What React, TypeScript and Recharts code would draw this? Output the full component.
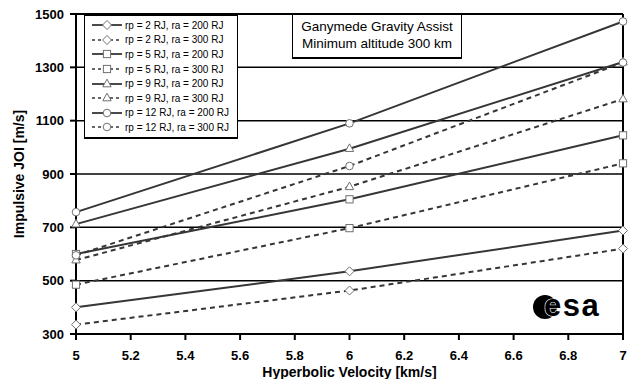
import React from 'react';
import { LineChart, Line, XAxis, YAxis, CartesianGrid, Legend, ReferenceLine } from 'recharts';

// Hyperbolic approach velocity (km/s)
const velocities = [5, 6, 7];

// Impulsive Jupiter orbit insertion cost (m/s) per orbit case
const rp2ra200 = [400, 535, 688];
const rp2ra300 = [335, 463, 620];
const rp5ra200 = [600, 805, 1045];
const rp5ra300 = [485, 697, 940];
const rp9ra200 = [712, 995, 1320];
const rp9ra300 = [577, 852, 1181];
const rp12ra200 = [757, 1090, 1472];
const rp12ra300 = [595, 930, 1318];

const xTicks = [5, 5.2, 5.4, 5.6, 5.8, 6, 6.2, 6.4, 6.6, 6.8, 7];
const yTicks = [300, 500, 700, 900, 1100, 1300, 1500];

const titleLines = ['Ganymede Gravity Assist', 'Minimum altitude 300 km'];

type Shape = 'diamond' | 'square' | 'triangle' | 'circle';

const series: { key: string; name: string; values: number[]; shape: Shape; dashed: boolean }[] = [
  { key: 'rp2ra200', name: 'rp = 2 RJ, ra = 200 RJ', values: rp2ra200, shape: 'diamond', dashed: false },
  { key: 'rp2ra300', name: 'rp = 2 RJ, ra = 300 RJ', values: rp2ra300, shape: 'diamond', dashed: true },
  { key: 'rp5ra200', name: 'rp = 5 RJ, ra = 200 RJ', values: rp5ra200, shape: 'square', dashed: false },
  { key: 'rp5ra300', name: 'rp = 5 RJ, ra = 300 RJ', values: rp5ra300, shape: 'square', dashed: true },
  { key: 'rp9ra200', name: 'rp = 9 RJ, ra = 200 RJ', values: rp9ra200, shape: 'triangle', dashed: false },
  { key: 'rp9ra300', name: 'rp = 9 RJ, ra = 300 RJ', values: rp9ra300, shape: 'triangle', dashed: true },
  { key: 'rp12ra200', name: 'rp = 12 RJ, ra = 200 RJ', values: rp12ra200, shape: 'circle', dashed: false },
  { key: 'rp12ra300', name: 'rp = 12 RJ, ra = 300 RJ', values: rp12ra300, shape: 'circle', dashed: true },
];

const data = velocities.map((v, i) => {
  const row: Record<string, number> = { v };
  series.forEach((s) => {
    row[s.key] = s.values[i];
  });
  return row;
});

const FONT = '"Liberation Sans", Arial, Helvetica, sans-serif';
const LINE_COLOR = '#363636';
const MARKER_STROKE = '#707070';
const DASH = '5 4';

function Marker({ cx, cy, shape }: { cx: number; cy: number; shape: Shape }) {
  const common = { fill: '#fff', stroke: MARKER_STROKE, strokeWidth: 1 };
  switch (shape) {
    case 'diamond':
      return <polygon points={`${cx},${cy - 4.5} ${cx + 4.5},${cy} ${cx},${cy + 4.5} ${cx - 4.5},${cy}`} {...common} />;
    case 'square':
      return <rect x={cx - 3.6} y={cy - 3.6} width={7.2} height={7.2} {...common} />;
    case 'triangle':
      return <polygon points={`${cx},${cy - 4.8} ${cx + 4.2},${cy + 2.8} ${cx - 4.2},${cy + 2.8}`} {...common} />;
    default:
      return <circle cx={cx} cy={cy} r={3.8} {...common} />;
  }
}

const renderLegend = () => (
  <div
    style={{
      width: 154,
      height: 123,
      border: '1px solid #000',
      boxShadow: '0 1px 0 #000',
      background: '#fff',
      boxSizing: 'border-box',
      paddingTop: 2,
      fontFamily: FONT,
      fontSize: 10,
      color: '#000',
    }}
  >
    {series.map((s) => (
      <div key={s.key} style={{ display: 'flex', alignItems: 'center', height: 14.6, whiteSpace: 'nowrap' }}>
        <svg width={40} height={12} style={{ flex: 'none' }}>
          <line
            x1={7}
            x2={37}
            y1={6}
            y2={6}
            stroke={LINE_COLOR}
            strokeWidth={s.dashed ? 1.6 : 1.8}
            strokeDasharray={s.dashed ? '3 3' : undefined}
          />
          <Marker cx={22} cy={6} shape={s.shape} />
        </svg>
        <span>{s.name}</span>
      </div>
    ))}
  </div>
);

const YLabel = () => (
  <text
    x={24}
    y={174}
    transform="rotate(-90, 24, 174)"
    textAnchor="middle"
    fontFamily={FONT}
    fontWeight="bold"
    fontSize={14}
    fill="#000"
  >
    Impulsive JOI [m/s]
  </text>
);

export default function App() {
  return (
    <div style={{ position: 'absolute', left: 0, top: 0, width: 630, height: 379, background: '#fff' }}>
      <LineChart width={630} height={379} data={data} margin={{ top: 14, right: 7, bottom: 0, left: 0 }}>
        <CartesianGrid horizontal vertical={false} stroke="#000" strokeWidth={1.5} />
        <XAxis
          dataKey="v"
          type="number"
          domain={[5, 7]}
          ticks={xTicks}
          tickFormatter={(v: number) => String(Number(v.toFixed(1)))}
          height={45}
          stroke="#000"
          strokeWidth={2}
          tickSize={6}
          tickMargin={11}
          tick={{ fill: '#000', fontFamily: FONT, fontWeight: 'bold', fontSize: 13 }}
          label={{
            value: 'Hyperbolic Velocity [km/s]',
            position: 'insideBottom',
            offset: 2,
            fill: '#000',
            fontFamily: FONT,
            fontWeight: 'bold',
            fontSize: 14,
          }}
        />
        <YAxis
          type="number"
          domain={[300, 1500]}
          ticks={yTicks}
          width={76}
          stroke="#000"
          strokeWidth={2}
          tickSize={6}
          tickMargin={6}
          tick={{ fill: '#000', fontFamily: FONT, fontWeight: 'bold', fontSize: 13 }}
          label={<YLabel />}
        />
        <ReferenceLine x={7} stroke="#000" strokeWidth={2} />
        <ReferenceLine y={1500} stroke="#000" strokeWidth={2} />
        <Legend
          layout="vertical"
          align="center"
          verticalAlign="middle"
          content={renderLegend}
          wrapperStyle={{ left: 84, top: 15, width: 154, height: 123 }}
        />
        {series.map((s) => (
          <Line
            key={s.key}
            dataKey={s.key}
            name={s.name}
            type="linear"
            stroke={LINE_COLOR}
            strokeWidth={2}
            strokeDasharray={s.dashed ? DASH : undefined}
            isAnimationActive={false}
            dot={(p: any) => <Marker key={`${s.key}-${p.index}`} cx={p.cx} cy={p.cy} shape={s.shape} />}
            activeDot={false}
          />
        ))}
      </LineChart>

      <div
        style={{
          position: 'absolute',
          left: 292,
          top: 14,
          width: 170,
          height: 44,
          border: '1px solid #000',
          boxShadow: '0 1px 0 #000',
          background: '#fff',
          boxSizing: 'border-box',
          paddingTop: 3,
          fontFamily: FONT,
          fontSize: 13.5,
          lineHeight: '17px',
          textAlign: 'center',
          color: '#000',
        }}
      >
        {titleLines.map((t) => (
          <div key={t}>{t}</div>
        ))}
      </div>

      <svg width={630} height={379} style={{ position: 'absolute', left: 0, top: 0, pointerEvents: 'none' }}>
        <circle cx={545} cy={307} r={12} fill="#000" />
        <text
          x={544}
          y={316}
          fontFamily={FONT}
          fontWeight="bold"
          fontSize={31}
          letterSpacing={1.5}
          fill="#000"
          stroke="#fff"
          strokeWidth={1.2}
          paintOrder="stroke"
        >
          esa
        </text>
      </svg>
    </div>
  );
}
